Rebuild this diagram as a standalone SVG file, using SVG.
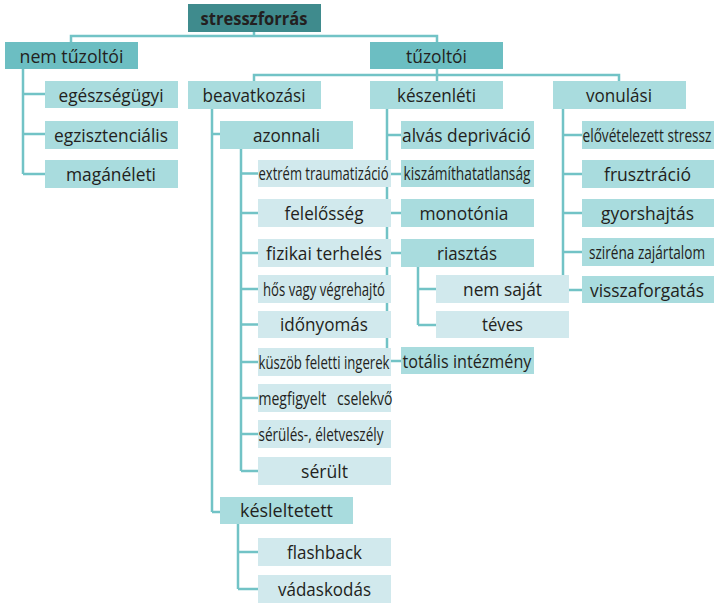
<svg xmlns="http://www.w3.org/2000/svg" width="715" height="604" viewBox="0 0 715 604">
<style>
rect{stroke:none}
.d{fill:#3f8b8d}
.m1{fill:#6cbec2}
.m2{fill:#a9dcde}
.l{fill:#d1e9ed}
text{font-family:"Open Sans","Noto Sans","Liberation Sans",sans-serif;font-size:18px;fill:#231f20;text-anchor:middle}
.b{font-weight:bold}
.st{text-anchor:start}
#connectors path{fill:none;stroke:#72c3c6;stroke-width:2.5}
</style>
<rect width="715" height="604" fill="#fff"/>
<g id="connectors">
<path d="M254 32V36M71 42V36H437V42"/>
<path d="M23 69V174M23 94H45M23 134H45M23 174H45"/>
<path d="M437 69V81M254 81V75H619V81"/>
<path d="M212 109V512M212 134H220M212 512H220"/>
<path d="M241 149V471M241 173.5H258M241 213H258M241 253H258M241 289H258M241 324.5H258M241 362H258M241 398H258M241 434H258M241 471H258"/>
<path d="M238 524V589M238 552H258M238 589H258"/>
<path d="M387 109V361M387 135H401M387 174H401M387 213H401M387 253H401M387 361H401"/>
<path d="M418 267V325M418 289H436M418 325H436"/>
<path d="M563 109V290M563 135H582M563 174H582M563 213H582M563 252H582M563 290H582"/>
</g>
<g id="stresszforras"><rect class="d" x="188" y="4" width="133" height="28"/><text class="b" x="254" y="25" textLength="107" lengthAdjust="spacingAndGlyphs">stresszforrás</text></g>
<g id="nem-tuzoltoi"><rect class="m1" x="5" y="42" width="133" height="27"/><text x="71.5" y="62.5" textLength="104" lengthAdjust="spacingAndGlyphs">nem tűzoltói</text></g>
<g id="tuzoltoi"><rect class="m1" x="370" y="42" width="133" height="27"/><text x="436.5" y="62.5" textLength="61" lengthAdjust="spacingAndGlyphs">tűzoltói</text></g>
<g id="egeszsegugyi"><rect class="m2" x="45" y="81" width="133" height="27"/><text x="111" y="101.5" textLength="105" lengthAdjust="spacingAndGlyphs">egészségügyi</text></g>
<g id="egzisztencialis"><rect class="m2" x="45" y="121" width="133" height="28"/><text x="111" y="141.5" textLength="114" lengthAdjust="spacingAndGlyphs">egzisztenciális</text></g>
<g id="maganeleti"><rect class="m2" x="45" y="160" width="133" height="28"/><text x="111" y="180.5" textLength="90" lengthAdjust="spacingAndGlyphs">magánéleti</text></g>
<g id="beavatkozasi"><rect class="m2" x="188" y="81" width="133" height="28"/><text x="254" y="101.5" textLength="103" lengthAdjust="spacingAndGlyphs">beavatkozási</text></g>
<g id="keszenleti"><rect class="m2" x="370" y="81" width="133" height="28"/><text x="436.5" y="101.5" textLength="79" lengthAdjust="spacingAndGlyphs">készenléti</text></g>
<g id="vonulasi"><rect class="m2" x="553" y="81" width="133" height="28"/><text x="619" y="101.5" textLength="66" lengthAdjust="spacingAndGlyphs">vonulási</text></g>
<g id="azonnali"><rect class="m2" x="220" y="121" width="133" height="28"/><text x="286.5" y="141.5" textLength="67" lengthAdjust="spacingAndGlyphs">azonnali</text></g>
<g id="extrem"><rect class="l" x="258" y="160" width="133" height="27"/><text class="st" x="258.5" y="180" textLength="130" lengthAdjust="spacingAndGlyphs">extrém traumatizáció</text></g>
<g id="felelosseg"><rect class="l" x="258" y="199" width="133" height="28"/><text x="324" y="219.5" textLength="79" lengthAdjust="spacingAndGlyphs">felelősség</text></g>
<g id="fizikai"><rect class="l" x="258" y="239" width="133" height="28"/><text x="324" y="259.5" textLength="116" lengthAdjust="spacingAndGlyphs">fizikai terhelés</text></g>
<g id="hos"><rect class="l" x="258" y="275" width="133" height="28"/><text x="324" y="295.5" textLength="122" lengthAdjust="spacingAndGlyphs">hős vagy végrehajtó</text></g>
<g id="idonyomas"><rect class="l" x="258" y="311" width="133" height="27"/><text x="324" y="331" textLength="88" lengthAdjust="spacingAndGlyphs">időnyomás</text></g>
<g id="kuszob"><rect class="l" x="258" y="348" width="133" height="28"/><text class="st" x="258.5" y="368.5" textLength="131" lengthAdjust="spacingAndGlyphs">küszöb feletti ingerek</text></g>
<g id="megfigyelt"><rect class="l" x="258" y="384" width="133" height="28"/><text class="st" x="258.5" y="404.5" textLength="134" lengthAdjust="spacingAndGlyphs" xml:space="preserve">megfigyelt   cselekvő</text></g>
<g id="serules"><rect class="l" x="258" y="420" width="133" height="28"/><text class="st" x="258.5" y="440.5" textLength="125" lengthAdjust="spacingAndGlyphs">sérülés-, életveszély</text></g>
<g id="serult"><rect class="l" x="258" y="457" width="133" height="28"/><text x="324.5" y="477.5" textLength="47" lengthAdjust="spacingAndGlyphs">sérült</text></g>
<g id="kesleltetett"><rect class="m2" x="220" y="497" width="133" height="27"/><text x="286.5" y="517" textLength="93" lengthAdjust="spacingAndGlyphs">késleltetett</text></g>
<g id="flashback"><rect class="l" x="258" y="538" width="133" height="28"/><text x="324.5" y="558.5" textLength="75" lengthAdjust="spacingAndGlyphs">flashback</text></g>
<g id="vadaskodas"><rect class="l" x="258" y="575" width="133" height="28"/><text x="324.5" y="595.5" textLength="93" lengthAdjust="spacingAndGlyphs">vádaskodás</text></g>
<g id="alvas"><rect class="m2" x="401" y="121" width="133" height="28"/><text x="466.5" y="141.5" textLength="129" lengthAdjust="spacingAndGlyphs">alvás depriváció</text></g>
<g id="kiszamithatatlansag"><rect class="m2" x="401" y="160" width="133" height="27"/><text x="467" y="180" textLength="127" lengthAdjust="spacingAndGlyphs">kiszámíthatatlanság</text></g>
<g id="monotonia"><rect class="m2" x="401" y="199" width="133" height="28"/><text x="464" y="219.5" textLength="89" lengthAdjust="spacingAndGlyphs">monotónia</text></g>
<g id="riasztas"><rect class="m2" x="401" y="239" width="133" height="28"/><text x="467" y="259.5" textLength="60" lengthAdjust="spacingAndGlyphs">riasztás</text></g>
<g id="nem-sajat"><rect class="l" x="436" y="275" width="133" height="28"/><text x="502.5" y="295.5" textLength="79" lengthAdjust="spacingAndGlyphs">nem saját</text></g>
<g id="teves"><rect class="l" x="436" y="311" width="133" height="27"/><text x="502.5" y="331" textLength="41" lengthAdjust="spacingAndGlyphs">téves</text></g>
<g id="totalis"><rect class="m2" x="401" y="347" width="133" height="27"/><text x="467" y="367.5" textLength="129" lengthAdjust="spacingAndGlyphs">totális intézmény</text></g>
<g id="elovetelezett"><rect class="m2" x="582" y="121" width="132" height="28"/><text class="st" x="582.5" y="141.5" textLength="129" lengthAdjust="spacingAndGlyphs">elővételezett stressz</text></g>
<g id="frusztracio"><rect class="m2" x="582" y="160" width="132" height="28"/><text x="647.5" y="180.5" textLength="87" lengthAdjust="spacingAndGlyphs">frusztráció</text></g>
<g id="gyorshajtas"><rect class="m2" x="582" y="199" width="132" height="28"/><text x="647.5" y="219.5" textLength="93" lengthAdjust="spacingAndGlyphs">gyorshajtás</text></g>
<g id="szirena"><rect class="m2" x="582" y="238" width="132" height="28"/><text x="647" y="258.5" textLength="116" lengthAdjust="spacingAndGlyphs">sziréna zajártalom</text></g>
<g id="visszaforgatas"><rect class="m2" x="582" y="276" width="132" height="27"/><text x="647" y="296.5" textLength="114" lengthAdjust="spacingAndGlyphs">visszaforgatás</text></g>
</svg>
